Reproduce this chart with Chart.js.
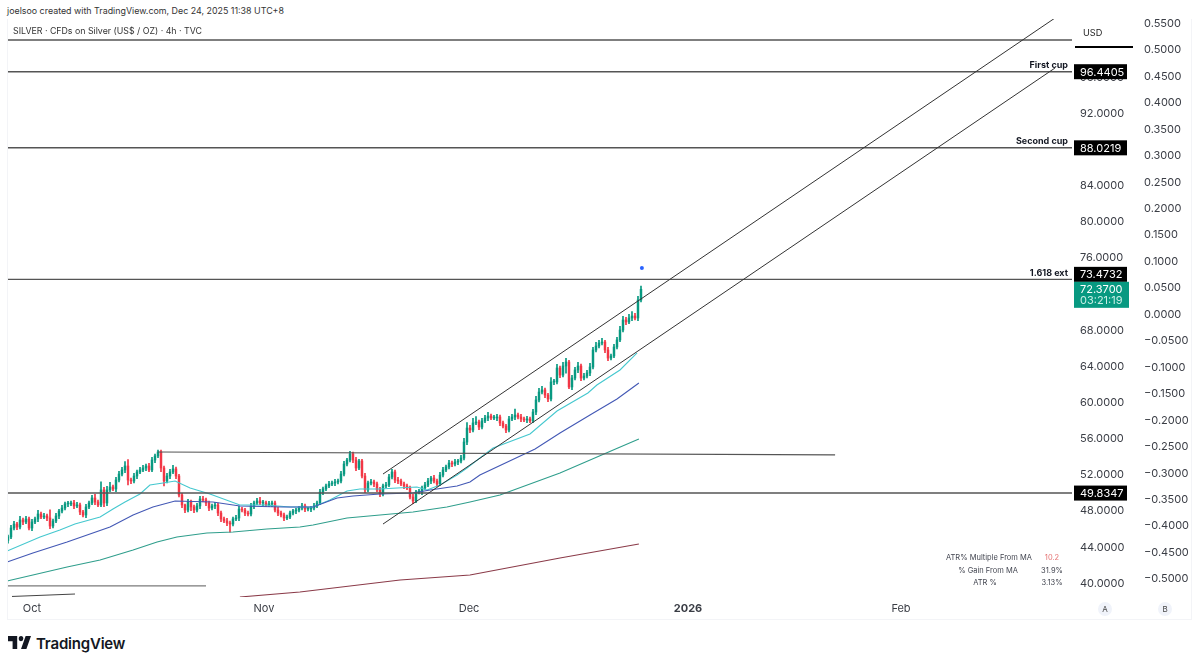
<!DOCTYPE html>
<html>
<head>
<meta charset="utf-8">
<title>SILVER 4h</title>
<script src="https://cdn.jsdelivr.net/npm/chart.js@4"></script>
<style>
  html, body { margin: 0; padding: 0; background: #fff; width: 1200px; height: 665px; overflow: hidden; font-family: Inter, "Liberation Sans", sans-serif; color: #131722; }
  #wrap { position: absolute; left: 7px; top: 19px; width: 1186px; height: 602px; }
  #panel { position: absolute; left: 7px; top: 19px; width: 1185px; height: 601px; border: 1px solid #f3f4f7; border-top: 0; box-sizing: border-box; pointer-events: none; }
  .t { position: absolute; white-space: nowrap; line-height: 1; }
  #usd { position: absolute; left: 1075px; top: 22px; width: 58px; height: 24px; background: #fff; border-bottom: 2px solid #000; font-size: 9.2px; color: #222; }
  #usd span { position: absolute; left: 8px; top: 5px; }
  .badge { position: absolute; width: 14px; height: 14px; border-radius: 7px; background: #f0f3fa; font-size: 8px; line-height: 14px; text-align: center; color: #444; }
  .stat { position: absolute; font-size: 7.5px; line-height: 1; color: #434651; transform: translateX(-50%); white-space: nowrap; }
</style>
</head>
<body>
<div id="wrap"><canvas id="chart" width="1186" height="602"></canvas></div>
<div id="panel"></div>

<div class="t" style="left:7px;top:7px;font-size:8.9px;color:#333">joelsoo created with TradingView.com, Dec 24, 2025 11:38 UTC+8</div>
<div class="t" style="left:13px;top:27px;font-size:8.8px;color:#333">SILVER · CFDs on Silver (US$ / OZ) · 4h · TVC</div>
<div id="usd"><span>USD</span></div>

<div class="stat" style="left:989px;top:554px">ATR% Multiple From MA</div>
<div class="stat" style="left:1052px;top:554px;color:#e57373">10.2</div>
<div class="stat" style="left:988px;top:567px">% Gain From MA</div>
<div class="stat" style="left:1052px;top:567px">31.9%</div>
<div class="stat" style="left:985px;top:579px">ATR %</div>
<div class="stat" style="left:1052px;top:579px">3.13%</div>

<div class="badge" style="left:1098px;top:602px">A</div>
<div class="badge" style="left:1158px;top:602px">B</div>

<svg style="position:absolute;left:8px;top:636px" width="23" height="13" viewBox="2 6 30 15" preserveAspectRatio="none"><path fill="#131722" d="M14 6H2v6h6v9h6V6Zm12 15h-7l6-15h7l-6 15Zm-7-9a3 3 0 1 0 0-6 3 3 0 0 0 0 6Z"/></svg>
<div class="t" style="left:36px;top:636px;font-size:15px;font-weight:600;letter-spacing:-0.2px;color:#131722">TradingView</div>

<script>
// Candle closes in USD per ounce, one entry per plotted bar, oldest first.
const closes = [
  44.98,45.97,46.41,46.08,46.86,46.64,46.97,45.97,46.64,46.97,
  47.52,47.19,47.30,47.08,46.19,46.75,47.30,47.85,48.18,48.63,
  48.63,48.74,48.41,48.52,47.74,47.41,48.30,48.74,49.29,48.85,
  48.52,50.18,48.74,50.18,50.51,50.29,51.28,51.94,52.39,52.83,
  51.28,51.17,51.72,52.17,52.39,52.61,52.83,52.39,53.49,53.94,
  54.38,52.61,51.17,51.72,52.17,52.50,51.72,49.62,48.52,47.96,
  48.85,48.30,47.96,48.41,49.18,49.07,48.74,48.18,48.41,48.52,
  47.63,46.97,46.75,46.53,46.41,46.97,47.08,48.07,47.96,47.63,
  47.52,48.41,48.74,48.96,48.74,48.74,48.52,48.63,48.74,47.96,
  47.63,47.41,47.08,47.19,47.63,47.85,47.96,48.18,48.41,48.07,
  48.07,48.18,48.41,48.74,49.95,50.29,50.62,50.84,50.95,51.06,
  51.17,51.94,53.05,53.49,54.16,53.49,52.61,53.38,51.72,50.18,
  50.95,51.06,50.84,50.18,49.73,50.62,50.73,51.61,52.17,51.28,
  51.17,50.84,50.62,50.40,49.40,48.96,49.95,49.95,50.40,50.73,
  51.17,51.50,51.17,50.84,51.83,52.39,52.72,53.16,53.05,53.27,
  53.38,53.71,55.48,57.03,56.81,57.59,57.70,57.14,57.81,58.14,
  58.36,58.14,58.14,58.25,57.59,57.25,56.81,58.03,58.25,58.47,
  58.25,58.03,57.92,58.03,57.81,58.80,60.13,61.01,61.24,60.68,
  60.24,62.12,62.12,63.67,62.89,63.89,64.33,61.57,62.56,63.45,
  63.89,62.56,62.78,63.12,63.78,65.66,66.10,66.43,66.54,65.66,
  64.77,65.00,65.99,66.77,67.87,68.98,68.76,69.20,69.42,69.20,
  71.19,72.37
];
const firstOpen = 44.6;

// Wick lengths above and below each candle body, in USD.
const wickUp = [
  .2,.3,.3,.2,.4,.2,.3,.2,.3,.2, .4,.2,.3,.2,.9,.2,.3,.2,.3,.2,
  .3,.2,.3,.3,.2,.2,.3,.2,.3,.4, .2,.9,.3,.4,.5,.2,.3,.3,.3,.5,
  .7,.2,.3,.2,.3,.3,.2,.3,.3,.2, .2,.2,.2,.3,.3,.4,.2,.2,.2,.1,
  .3,.2,.2,.3,.3,.3,.2,.2,.2,.3, .2,.2,.2,.3,.2,.2,.3,.3,.2,.2,
  .2,.3,.2,.3,.4,.3,.2,.3,.2,.2, .3,.2,.2,.2,.2,.2,.2,.2,.3,.2,
  .2,.2,.3,.2,.3,.2,.2,.3,.2,.3, .2,.3,.3,.2,.3,.2,.3,.2,.2,.3,
  .2,.3,.2,.2,.3,.2,.3,.3,.3,.2, .3,.2,.2,.2,.2,.3,.2,.3,.2,.3,
  .3,.2,.3,.2,.3,.3,.2,.3,.2,.3, .2,.3,.4,.6,.3,.5,.6,.2,.3,.3,
  .4,.2,.3,.3,.2,.2,.2,.3,.3,.65, .2,.3,.2,.3,.2,.3,.4,.4,.4,.2,
  .2,.5,.3,.4,.2,.4,.4,.2,.3,.3, .4,.2,.3,.3,.4,.3,.4,.3,.4,.2,
  .3,.2,.3,.3,.4,.4,.3,.4,.5,.3, .4,.35
];
const wickDown = [
  .3,.2,.2,.3,.2,.3,.2,.2,.3,.2, .3,.2,.2,.3,.3,.2,.2,.3,.2,.2,
  .3,.2,.3,.2,.3,.2,.3,.2,.2,.3, .2,.2,.4,.3,.2,.2,.3,.2,.2,.3,
  .55,.3,.2,.3,.2,.2,.3,.2,.2,.3, .2,.4,.55,.2,.3,.2,.3,.2,.3,.3,
  .2,.4,.3,.2,.3,.2,.3,.3,.2,.3, .3,.3,.2,.3,.9,.2,.2,.3,.2,.3,
  .2,.2,.3,.2,.2,.3,.2,.2,.3,.2, .3,.2,.3,.2,.2,.2,.3,.2,.2,.3,
  .2,.3,.2,.2,.2,.3,.2,.2,.2,.3, .2,.2,.2,.2,.2,.3,.3,.2,.2,.3,
  .2,.2,.3,.2,.3,.2,.2,.2,.2,.3, .3,.2,.3,.2,.2,.3,.2,.2,.3,.2,
  .2,.3,.2,.3,.2,.2,.2,.2,.3,.2, .3,.2,.2,.3,.3,.2,.2,.3,.2,.2,
  .3,.2,.2,.3,.3,.2,.3,.2,.2,.3, .2,.3,.2,.3,.2,.2,.3,.2,.2,.3,
  .3,.2,.3,.2,.3,.2,.8,.2,.3,.2, .3,.3,.2,.2,.3,.2,.2,.2,.2,.3,
  .3,.2,.2,.2,.2,.2,.3,.2,.3,.2, .3,.2
];

// Moving averages, read at a handful of bars each.
const maFastBars = [-.3,10.7,17.3,22.3,30.7,35,39,44,47.3,51.7,55.7,60.7,67.3,77.3,85.7,94,101.7,107.3,113,117.3,124,129.7,136.3,139.7,144,149.7,153,157.3,161.7,174,183,193.3,196.3,204,209.7];
const maFastVals = [43.43,44.98,45.75,46.41,47.19,48.07,48.85,49.73,50.73,50.95,51.17,50.40,49.73,48.52,48.52,48.30,48.30,49.07,50.06,50.29,50.29,50.40,50.51,50.18,50.73,51.83,52.61,53.71,54.82,56.37,58.91,60.90,61.79,63.45,65.33];
const maMidBars = [-.3,8.3,19.7,34,41.7,48.3,55.7,68.3,77.3,91.7,101.7,109.7,115,124,135,140.7,149.7,154,157.3,175.7,184,194,203,210.3];
const maMidVals = [42.21,43.21,44.42,46.08,47.41,48.30,48.96,48.85,48.41,48.30,48.30,49.29,49.51,49.73,49.84,50.18,50.62,51.06,51.83,54.71,56.48,58.47,60.24,62.01];
const maSlowBars = [-.3,8.3,19.7,30.7,41.7,49.7,56.3,66.3,75,86.3,97.3,101.7,113,124,135,146.3,154,164,184,203.3,210.3];
const maSlowVals = [40.11,40.77,41.66,42.43,43.54,44.42,44.98,45.42,45.53,45.86,46.08,46.30,47.08,47.41,47.74,48.30,48.85,49.62,52.05,54.82,55.81];
const maLongBars = [77.3,97.3,130.7,154,184,210.3];
const maLongVals = [38.34,38.89,40.22,40.77,42.65,44.20];

// Horizontal levels across the whole pane.
const levelPrices = [99.95, 96.4405, 88.0219, 73.4732, 49.8347];

// Hand-drawn trend lines as [bar, price, bar, price].
const cupRim = [50, 54.38, 275.7, 54.05];
const channelUpper = [125, 51.94, 349, 102.38];
const channelLower = [125, 46.41, 349, 96.85];
const oldSupportA = [-.33, 39.56, 66, 39.56];
const oldSupportB = [1.33, 38.40, 22.33, 38.67];

// Signal dot above the last bar.
const signalBar = 211.3;
const signalPrice = 74.73;

// Axis labelling.
const priceTicks = [40,44,48,52,56,60,64,68,72,76,80,84,88,92,96,100];
const spreadTicks = [-.5,-.45,-.4,-.35,-.3,-.25,-.2,-.15,-.1,-.05,0,.05,.1,.15,.2,.25,.3,.35,.4,.45,.5,.55];
const timeTickBars = [8, 85.33, 153.67, 226.67, 297.67];
const timeTickLabels = ['Oct', 'Nov', 'Dec', '2026', 'Feb'];

// Price tags in the axis gutter: value, caption, vertical nudge in pixels.
const tagValues = [96.4405, 88.0219, 73.4732, 49.8347];
const tagCaptions = ['First cup', 'Second cup', '1.618 ext', ''];
const tagNudges = [0, 0, -5, 0];
const lastPrice = 72.37;
const countdown = '03:21:19';

const UP = '#089981', DOWN = '#f23645';
const AXIS_TEXT = '#3a3d45';

const barsIdx = closes.map((_, i) => i);
const opens = closes.map((c, i) => (i === 0 ? firstOpen : closes[i - 1]));
const candleColors = closes.map((c, i) => (c >= opens[i] ? UP : DOWN));
const toPoints = (xs, ys) => xs.map((x, i) => ({ x, y: ys[i] }));
const segment = s => [{ x: s[0], y: s[1] }, { x: s[2], y: s[3] }];

const X_MIN = -1 / 3, X_MAX = 354.67;

const lineSet = (data, color, width, order) => ({
  type: 'line', data, borderColor: color, borderWidth: width, pointRadius: 0,
  tension: 0, fill: false, order, xAxisID: 'x', yAxisID: 'price'
});

const datasets = [
  {
    type: 'bar', label: 'wicks', order: 6, grouped: false, barThickness: 1, xAxisID: 'x', yAxisID: 'price',
    backgroundColor: candleColors,
    data: barsIdx.map(i => ({ x: i, y: [Math.min(opens[i], closes[i]) - wickDown[i], Math.max(opens[i], closes[i]) + wickUp[i]] }))
  },
  {
    type: 'bar', label: 'bodies', order: 5, grouped: false, barThickness: 1.8, minBarLength: 1, xAxisID: 'x', yAxisID: 'price',
    backgroundColor: candleColors,
    data: barsIdx.map(i => ({ x: i, y: [opens[i], closes[i]] }))
  },
  lineSet(toPoints(maLongBars, maLongVals), '#8a3a48', 1.1, 4),
  lineSet(toPoints(maSlowBars, maSlowVals), '#2f9e8c', 1.1, 4),
  lineSet(toPoints(maMidBars, maMidVals), '#4358b5', 1.1, 4),
  lineSet(toPoints(maFastBars, maFastVals), '#45c8cf', 1.1, 4),
  ...levelPrices.map(p => lineSet([{ x: X_MIN, y: p }, { x: X_MAX, y: p }], '#555555', 1.4, 3)),
  lineSet(segment(cupRim), '#555555', 1.2, 3),
  lineSet(segment(channelUpper), '#333333', 1, 2),
  lineSet(segment(channelLower), '#333333', 1, 2),
  lineSet(segment(oldSupportA), '#7a7a7a', 1.2, 3),
  lineSet(segment(oldSupportB), '#444444', 1, 3),
  {
    type: 'scatter', label: 'signal', order: 1, xAxisID: 'x', yAxisID: 'price',
    data: [{ x: signalBar, y: signalPrice }], pointRadius: 2, backgroundColor: '#2962ff', borderWidth: 0
  }
];

// Draws the black and teal price tags over the axis gutter.
const tagPlugin = {
  id: 'priceTags',
  afterDraw(chart) {
    const { ctx, scales } = chart;
    const y = scales.price;
    const left = chart.chartArea.right + 2;
    const font = '11px Inter, "Liberation Sans", sans-serif';
    ctx.save();
    ctx.textBaseline = 'middle';
    tagValues.forEach((v, i) => {
      const levelY = y.getPixelForValue(v);
      const cy = levelY + tagNudges[i];
      ctx.fillStyle = '#000';
      ctx.fillRect(left, cy - 7.5, 53, 15);
      ctx.fillStyle = '#fff';
      ctx.font = font;
      ctx.textAlign = 'left';
      ctx.fillText(v.toFixed(4), left + 6, cy + .5);
      if (tagCaptions[i]) {
        ctx.fillStyle = '#131722';
        ctx.font = 'bold 9px Inter, "Liberation Sans", sans-serif';
        ctx.textAlign = 'right';
        ctx.fillText(tagCaptions[i], chart.chartArea.right - 4, levelY - 6.5);
      }
    });
    const ly = y.getPixelForValue(lastPrice);
    ctx.fillStyle = '#089981';
    ctx.fillRect(left, ly - 7.5, 55, 26);
    ctx.fillStyle = '#fff';
    ctx.font = font;
    ctx.textAlign = 'left';
    ctx.fillText(lastPrice.toFixed(4), left + 6, ly + .5);
    ctx.fillStyle = '#c8efe6';
    ctx.fillText(countdown, left + 6, ly + 11.5);
    ctx.restore();
  }
};

// The axes carry no edge padding so the plot area fills the pane exactly.
const noEdgePadding = s => { s.paddingLeft = s.paddingRight = s.paddingTop = s.paddingBottom = 0; };
const bareGrid = { display: false, drawTicks: false };

new Chart(document.getElementById('chart'), {
  data: { datasets },
  plugins: [tagPlugin],
  options: {
    responsive: false,
    animation: false,
    events: [],
    layout: { padding: 0, autoPadding: false },
    plugins: { legend: { display: false }, tooltip: { enabled: false } },
    scales: {
      x: {
        type: 'linear', min: X_MIN, max: X_MAX, offset: false,
        grid: bareGrid, border: { display: false },
        afterBuildTicks: s => { s.ticks = timeTickBars.map(value => ({ value })); },
        afterFit: s => { s.height = 24; noEdgePadding(s); },
        ticks: {
          autoSkip: false, maxRotation: 0, padding: 5, color: AXIS_TEXT,
          font: c => ({ family: 'Inter, "Liberation Sans", sans-serif', size: 11, weight: c.index === 3 ? 'bold' : 'normal' }),
          callback: (v, i) => timeTickLabels[i]
        }
      },
      price: {
        type: 'linear', position: 'right', min: 38.34, max: 102.27,
        grid: bareGrid, border: { display: false },
        afterBuildTicks: s => { s.ticks = priceTicks.map(value => ({ value })); },
        afterFit: s => { s.width = 60; noEdgePadding(s); },
        ticks: {
          autoSkip: false, padding: 8, color: AXIS_TEXT, labelOffset: 1.5,
          font: { family: 'Inter, "Liberation Sans", sans-serif', size: 11 },
          callback: v => v.toFixed(4)
        }
      },
      spread: {
        type: 'linear', position: 'right', min: -0.5359, max: 0.5567,
        grid: bareGrid, border: { display: false },
        afterBuildTicks: s => { s.ticks = spreadTicks.map(value => ({ value })); },
        afterFit: s => { s.width = 61; noEdgePadding(s); },
        ticks: {
          autoSkip: false, padding: 12, color: AXIS_TEXT, labelOffset: 1,
          font: { family: 'Inter, "Liberation Sans", sans-serif', size: 11 },
          callback: v => (v < 0 ? '\u2212' : '') + Math.abs(v).toFixed(4)
        }
      }
    }
  }
});
</script>
</body>
</html>
